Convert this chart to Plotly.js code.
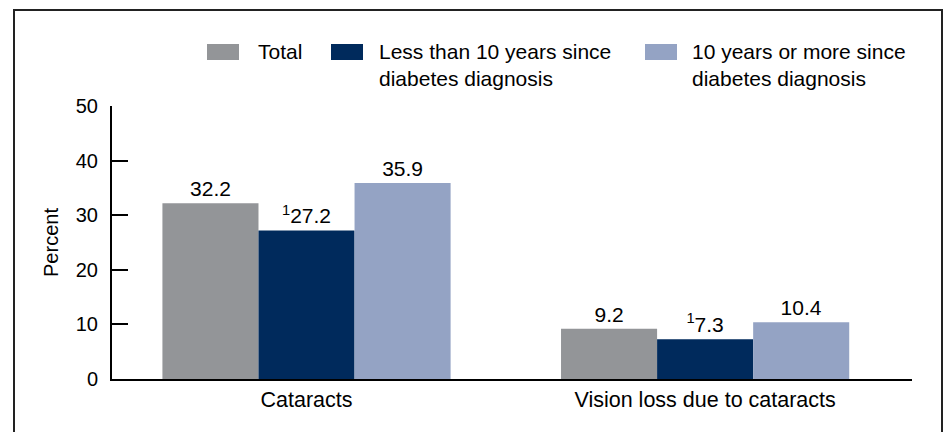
<!DOCTYPE html>
<html>
<head>
<meta charset="utf-8">
<script src="https://cdn.plot.ly/plotly-3.0.1.min.js"></script>
<style>html,body{margin:0;padding:0;background:#fff;}#chart{width:945px;height:432px;}</style>
</head>
<body>
<div id="chart"></div>
<script>
const categories = ["Cataracts", "Vision loss due to cataracts"];
const seriesNames = ["Total", "Less than 10 years since<br>diabetes diagnosis", "10 years or more since<br>diabetes diagnosis"];
const totalValues = [32.2, 9.2];
const lessThan10Values = [27.2, 7.3];
const tenOrMoreValues = [35.9, 10.4];
const lessThan10Flags = ["1", "1"];
const yTicks = [0, 10, 20, 30, 40, 50];

const colors = ["#939598", "#002a5c", "#94a3c4"];
const FONT = "Liberation Sans, Arial, sans-serif";

function labels(vals, flags) {
  return vals.map((v, i) => (flags && flags[i] ? "<sup>" + flags[i] + "</sup>" : "") + v.toFixed(1));
}

const seriesValues = [totalValues, lessThan10Values, tenOrMoreValues];
const seriesFlags = [null, lessThan10Flags, null];

const traces = seriesValues.map((vals, k) => ({
  type: "bar",
  x: categories,
  y: vals,
  name: seriesNames[k],
  marker: {color: colors[k], line: {width: 0}},
  text: labels(vals, seriesFlags[k]),
  textposition: "outside",
  textfont: {family: FONT, size: 21, color: "#000"},
  cliponaxis: false,
  hoverinfo: "none",
  showlegend: false
}));

// plot area: x 112..912, y 106..379
const L = 112, R = 912, T = 106, B = 379;
const px = x => (x - L) / (R - L);
const py = y => (B - y) / (B - T);

const shapes = [
  {type: "rect", xref: "paper", yref: "paper", x0: px(14), x1: px(942), y0: py(445), y1: py(10),
   line: {color: "#222", width: 2}, fillcolor: "rgba(0,0,0,0)", layer: "below"}
];
const swatchX = [207, 331, 645];
const textX = [256, 377, 690];
const annotations = [];
for (let k = 0; k < 3; k++) {
  shapes.push({type: "rect", xref: "paper", yref: "paper",
    x0: px(swatchX[k]), x1: px(swatchX[k] + 32), y0: py(60), y1: py(44),
    line: {width: 0}, fillcolor: colors[k]});
  annotations.push({xref: "paper", yref: "paper", x: px(textX[k]), y: py(38),
    xanchor: "left", yanchor: "top", align: "left", showarrow: false,
    text: seriesNames[k], font: {family: FONT, size: 21, color: "#000"}});
}

const layout = {
  width: 945, height: 432,
  margin: {l: L, r: 945 - R, t: T, b: 432 - B, pad: 0},
  paper_bgcolor: "#fff", plot_bgcolor: "#fff",
  barmode: "group", bargap: 0.277, bargroupgap: 0,
  font: {family: FONT, color: "#000"},
  xaxis: {
    type: "category", range: [-0.488, 1.519],
    showline: true, linecolor: "#000", linewidth: 2,
    ticks: "", showgrid: false, zeroline: false,
    tickfont: {family: FONT, size: 21.5, color: "#000"}
  },
  yaxis: {
    range: [0, 50], tickvals: yTicks, ticktext: yTicks.map(String),
    showline: true, linecolor: "#000", linewidth: 2,
    ticks: "inside", ticklen: 16, tickwidth: 2, tickcolor: "#000",
    showgrid: false, zeroline: false,
    ticklabelstandoff: 8,
    tickfont: {family: FONT, size: 20, color: "#000"},
    title: {text: "Percent", font: {family: FONT, size: 20, color: "#000"}, standoff: 12}
  },
  shapes: shapes,
  annotations: annotations,
  showlegend: false
};

Plotly.newPlot("chart", traces, layout, {displayModeBar: false, staticPlot: true});
</script>
</body>
</html>
